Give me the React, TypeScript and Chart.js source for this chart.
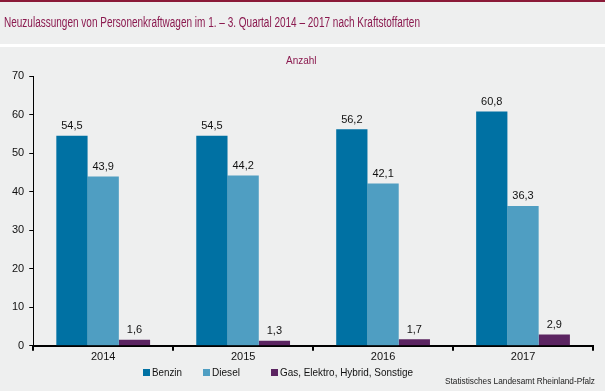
import React, { useEffect, useRef } from "react";
import { Chart, registerables } from "chart.js";

Chart.register(...registerables);

const categories = ["2014", "2015", "2016", "2017"];
const benzin = [54.5, 54.5, 56.2, 60.8];
const diesel = [43.9, 44.2, 42.1, 36.3];
const sonstige = [1.6, 1.3, 1.7, 2.9];
const seriesNames = ["Benzin", "Diesel", "Gas, Elektro, Hybrid, Sonstige"];
const seriesColors = ["#0071a3", "#4f9ec2", "#5b2461"];
const yTicks = [0, 10, 20, 30, 40, 50, 60, 70];
const titleText = "Neuzulassungen von Personenkraftwagen im 1. – 3. Quartal 2014 – 2017 nach Kraftstoffarten";
const unitText = "Anzahl";
const sourceText = "Statistisches Landesamt Rheinland-Pfalz";

const FONT = "Arial, 'Liberation Sans', sans-serif";

function fitText(ctx: any, text: string, x: number, y: number, w: number) {
  const m = ctx.measureText(text).width;
  const s = Math.min(1, w / m);
  ctx.save();
  ctx.translate(x, y);
  ctx.scale(s, 1);
  ctx.fillText(text, 0, 0);
  ctx.restore();
}

const decorPlugin = {
  id: "decor",
  beforeDraw(chart: any) {
    const { ctx, width, height } = chart;
    ctx.save();
    ctx.fillStyle = "#eeefef";
    ctx.fillRect(0, 0, width, height);
    ctx.fillStyle = "#8b1a38";
    ctx.fillRect(0, 0, width, 2);
    ctx.fillStyle = "#ffffff";
    ctx.fillRect(0, 44, width, 3);
    ctx.fillStyle = "#8b1a4f";
    ctx.font = `14px ${FONT}`;
    ctx.textBaseline = "middle";
    ctx.textAlign = "left";
    fitText(ctx, titleText, 4, 23, 416);
    ctx.font = `10px ${FONT}`;
    fitText(ctx, unitText, 286, 61, 32);
    ctx.fillStyle = "#222";
    ctx.font = `9px ${FONT}`;
    fitText(ctx, sourceText, 445, 382, 150);
    // legend
    const items = [143, 203, 271];
    ctx.font = `11px ${FONT}`;
    const widths = [30, 28, 133];
    seriesNames.forEach((n, i) => {
      ctx.fillStyle = seriesColors[i];
      ctx.fillRect(items[i], 369, 7, 7);
      ctx.fillStyle = "#111";
      fitText(ctx, n, items[i] + 9, 373, widths[i]);
    });
    ctx.restore();
  },
  afterDatasetsDraw(chart: any) {
    const { ctx } = chart;
    ctx.save();
    ctx.font = `11px ${FONT}`;
    ctx.fillStyle = "#111";
    ctx.textAlign = "center";
    ctx.textBaseline = "bottom";
    chart.data.datasets.forEach((ds: any, i: number) => {
      const meta = chart.getDatasetMeta(i);
      meta.data.forEach((bar: any, j: number) => {
        const v = ds.data[j];
        ctx.fillText(String(v).replace(".", ","), bar.x, bar.y - 4);
      });
    });
    ctx.restore();
  },
};

export default function App() {
  const ref = useRef<HTMLCanvasElement>(null);
  useEffect(() => {
    document.body.style.margin = "0";
    const chart = new Chart(ref.current!, {
      type: "bar",
      data: {
        labels: categories,
        datasets: [benzin, diesel, sonstige].map((d, i) => ({
          label: seriesNames[i],
          data: d,
          backgroundColor: seriesColors[i],
          borderWidth: 0,
          categoryPercentage: 0.67,
          barPercentage: 1,
        })),
      },
      options: {
        animation: false,
        responsive: false,
        maintainAspectRatio: false,
        layout: { padding: { top: 76, left: 7, right: 12, bottom: 27 } },
        plugins: {
          legend: { display: false },
          title: { display: false },
          tooltip: { enabled: false },
        },
        scales: {
          x: {
            grid: {
              offset: true,
              drawOnChartArea: false,
              drawTicks: true,
              tickLength: 5,
              color: "#000",
              lineWidth: 2,
            },
            border: { color: "#000", width: 2 },
            ticks: { color: "#111", font: { size: 11, family: FONT }, padding: 0 },
          },
          y: {
            min: 0,
            max: 70,
            afterBuildTicks: (axis: any) => {
              axis.ticks = yTicks.map((v) => ({ value: v }));
            },
            grid: {
              drawOnChartArea: false,
              drawTicks: true,
              tickLength: 4,
              color: "#000",
            },
            border: { color: "#000", width: 1 },
            ticks: { color: "#111", font: { size: 11, family: FONT }, padding: 5 },
          },
        },
      },
      plugins: [decorPlugin],
    });
    return () => chart.destroy();
  }, []);
  return <canvas ref={ref} width={605} height={391} style={{ display: "block" }} />;
}
